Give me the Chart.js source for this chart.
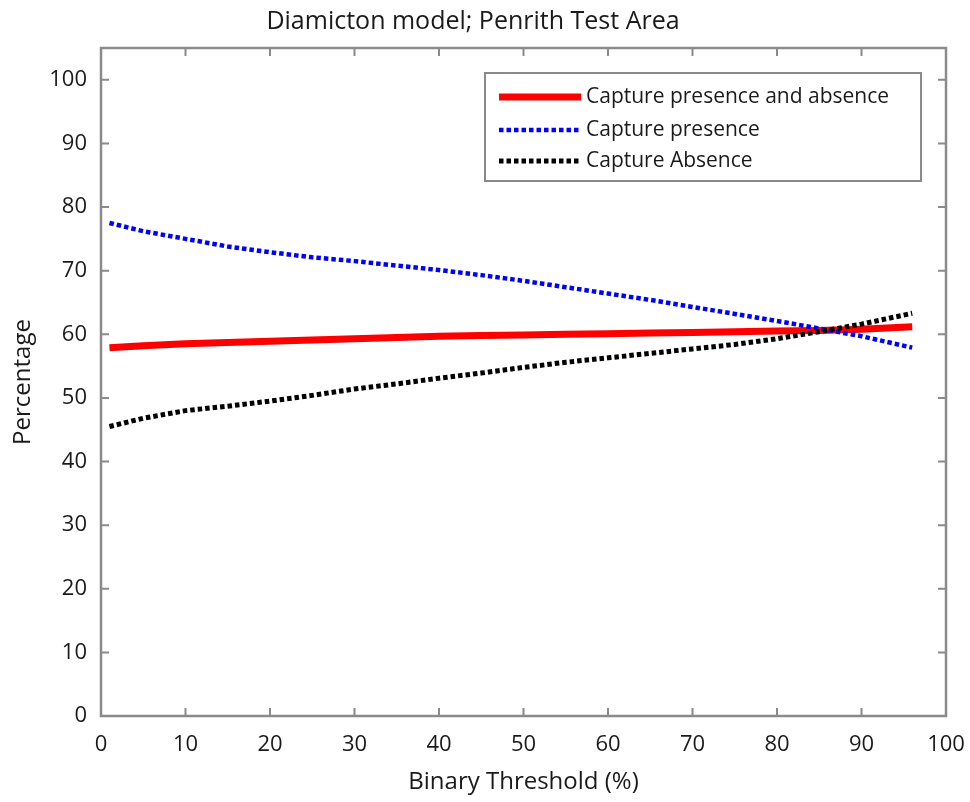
<!DOCTYPE html>
<html>
<head>
<meta charset="utf-8">
<script src="https://cdn.jsdelivr.net/npm/chart.js@4.4.1/dist/chart.umd.min.js"></script>
<style>
  html, body { margin: 0; padding: 0; background: #fff; }
  #wrap { position: relative; width: 970px; height: 802px; }
</style>
</head>
<body>
<div id="wrap"><canvas id="chart-threshold" width="970" height="802"></canvas></div>
<script>
// binary threshold (%) on the x axis
const thresholds   = [1, 5, 10, 15, 20, 25, 30, 35, 40, 45, 50, 55, 60, 65, 70, 75, 80, 85, 90, 96];
const bothVals     = [57.9, 58.2, 58.5, 58.7, 58.9, 59.1, 59.3, 59.5, 59.7, 59.8, 59.9, 60.0, 60.1, 60.2, 60.3, 60.4, 60.5, 60.6, 60.8, 61.2];
const presenceVals = [77.5, 76.2, 75.0, 73.8, 72.9, 72.1, 71.5, 70.8, 70.1, 69.3, 68.4, 67.4, 66.4, 65.4, 64.3, 63.2, 62.1, 60.9, 59.7, 57.9];
const absenceVals  = [45.5, 46.8, 48.0, 48.7, 49.5, 50.4, 51.4, 52.2, 53.1, 53.9, 54.8, 55.6, 56.3, 57.0, 57.7, 58.4, 59.3, 60.4, 61.6, 63.3];
const seriesNames  = ['Capture presence and absence', 'Capture presence', 'Capture Absence'];
const xTicks = [0, 10, 20, 30, 40, 50, 60, 70, 80, 90, 100];
const yTicks = [0, 10, 20, 30, 40, 50, 60, 70, 80, 90, 100];

const FONT = '"Open Sans", "DejaVu Sans", sans-serif';
const TEXT = '#1a1a1a';
const AXIS_GREY = '#8a8a8a';
const toPts = vals => thresholds.map((x, i) => ({ x, y: vals[i] }));

// MATLAB-like box with inward ticks on all four sides
const boxTicks = {
  id: 'boxTicks',
  afterDatasetsDraw(chart) {
    const { ctx, chartArea: a, scales: { x, y } } = chart;
    const len = 8;
    ctx.save();
    ctx.strokeStyle = AXIS_GREY;
    ctx.lineWidth = 2;
    ctx.beginPath();
    xTicks.forEach(v => {
      const px = x.getPixelForValue(v);
      ctx.moveTo(px, a.bottom); ctx.lineTo(px, a.bottom - len);
      ctx.moveTo(px, a.top);    ctx.lineTo(px, a.top + len);
    });
    yTicks.forEach(v => {
      const py = y.getPixelForValue(v);
      ctx.moveTo(a.left, py);  ctx.lineTo(a.left + len, py);
      ctx.moveTo(a.right, py); ctx.lineTo(a.right - len, py);
    });
    ctx.stroke();
    ctx.lineWidth = 2.5;
    ctx.strokeRect(a.left, a.top, a.right - a.left, a.bottom - a.top);
    ctx.restore();
  },
};

// legend box in the upper right of the plot
const boxLegend = {
  id: 'boxLegend',
  afterDraw(chart) {
    const { ctx, chartArea: a } = chart;
    const bw = 436, bh = 108;
    const bx = a.right - 25 - bw, by = 73;
    ctx.save();
    ctx.fillStyle = '#fff';
    ctx.fillRect(bx, by, bw, bh);
    ctx.strokeStyle = AXIS_GREY;
    ctx.lineWidth = 2;
    ctx.strokeRect(bx, by, bw, bh);
    const rows = [by + 24, by + 57, by + 88];
    chart.data.datasets.forEach((ds, i) => {
      ctx.beginPath();
      ctx.strokeStyle = ds.borderColor;
      ctx.lineWidth = ds.borderWidth;
      ctx.setLineDash(ds.borderDash || []);
      ctx.moveTo(bx + 14, rows[i]);
      ctx.lineTo(bx + 96, rows[i]);
      ctx.stroke();
      ctx.setLineDash([]);
      ctx.fillStyle = TEXT;
      ctx.font = '21px ' + FONT;
      ctx.textBaseline = 'middle';
      ctx.fillText(ds.label, bx + 101, rows[i]);
    });
    ctx.restore();
  },
};

new Chart(document.getElementById('chart-threshold'), {
  type: 'line',
  data: {
    datasets: [
      { label: seriesNames[0], data: toPts(bothVals),     borderColor: '#ff0000', borderWidth: 7,   pointRadius: 0, order: 3 },
      { label: seriesNames[1], data: toPts(presenceVals), borderColor: '#0000ff', borderWidth: 4.5, borderDash: [4.5, 3], pointRadius: 0, order: 2 },
      { label: seriesNames[2], data: toPts(absenceVals),  borderColor: '#000000', borderWidth: 5,   borderDash: [4.5, 3], pointRadius: 0, order: 1 },
    ],
  },
  options: {
    responsive: false,
    animation: false,
    devicePixelRatio: 1,
    layout: { padding: { left: 0, right: 24, top: 0, bottom: 0 } },
    plugins: {
      legend: { display: false },
      tooltip: { enabled: false },
      title: {
        display: true,
        text: 'Diamicton model; Penrith Test Area',
        color: TEXT,
        font: { family: FONT, size: 25, weight: 'normal' },
        padding: { top: 7, bottom: 11 },
      },
    },
    scales: {
      x: {
        type: 'linear', min: 0, max: 100,
        border: { display: false },
        grid: { drawOnChartArea: false, drawTicks: false },
        ticks: { stepSize: 10, padding: 16, color: TEXT, font: { family: FONT, size: 22 }, maxRotation: 0 },
        title: { display: true, text: 'Binary Threshold (%)', color: TEXT, font: { family: FONT, size: 24 }, padding: { top: 0, bottom: 5 } },
        afterFit(s) { s.height = 86; s.paddingLeft = 0; s.paddingRight = 0; },
      },
      y: {
        type: 'linear', min: 0, max: 105,
        border: { display: false },
        grid: { drawOnChartArea: false, drawTicks: false },
        ticks: { stepSize: 10, padding: 14, color: TEXT, font: { family: FONT, size: 22 } },
        afterBuildTicks(s) { s.ticks = s.ticks.filter(t => t.value <= 100); },
        title: { display: true, text: 'Percentage', color: TEXT, font: { family: FONT, size: 24 }, padding: { top: 9, bottom: 0 } },
        afterFit(s) { s.width = 101; s.paddingTop = 0; s.paddingBottom = 0; },
      },
    },
  },
  plugins: [boxTicks, boxLegend],
});
</script>
</body>
</html>
